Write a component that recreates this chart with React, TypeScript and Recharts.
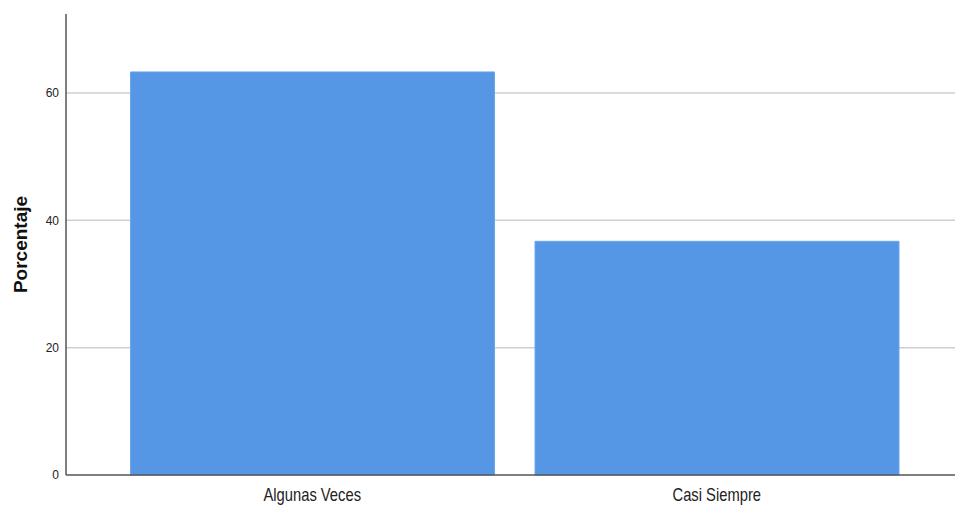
import React from 'react';
import { BarChart, Bar, XAxis, YAxis, CartesianGrid } from 'recharts';

const categories = ['Algunas Veces', 'Casi Siempre'];
const percentages = [63.3, 36.7];
const yTicks = [0, 20, 40, 60];
const gridValues = [20, 40, 60];

const data = categories.map((name, i) => ({ name, value: percentages[i] }));

// narrow-looking category label (no condensed font installed, so squeeze it)
const CategoryTick = (props: any) => {
  const { x, y, payload } = props;
  return (
    <g transform={`translate(${x},${y}) scale(0.82,1)`}>
      <text
        x={0}
        y={0}
        dy="0.71em"
        textAnchor="middle"
        fill="#222"
        fontSize={18}
        fontFamily="Liberation Sans, Arial, sans-serif"
      >
        {payload.value}
      </text>
    </g>
  );
};

export default function App() {
  return (
    <div style={{ position: 'absolute', left: 0, top: 0, width: 955, height: 506, background: '#fff' }}>
      <BarChart
        width={955}
        height={506}
        data={data}
        margin={{ top: 14, right: 0, bottom: 0, left: 0 }}
        barCategoryGap={20.5}
      >
        <CartesianGrid vertical={false} horizontalValues={gridValues} stroke="#cfcfcf" strokeWidth={1.5} />
        <XAxis
          dataKey="name"
          height={31}
          padding={{ left: 44, right: 36 }}
          tickLine={false}
          tickSize={6}
          tickMargin={7}
          axisLine={{ stroke: '#555', strokeWidth: 1.5 }}
          tick={<CategoryTick />}
        />
        <YAxis
          width={66}
          domain={[0, 72.4]}
          ticks={yTicks}
          tickLine={false}
          tickSize={5}
          tickMargin={2}
          axisLine={{ stroke: '#555', strokeWidth: 1.5 }}
          tick={{ fontSize: 12, fill: '#222', fontFamily: 'Liberation Sans, Arial, sans-serif' }}
          label={{
            value: 'Porcentaje',
            angle: -90,
            position: 'center',
            dx: -13,
            style: { fontSize: 19, fontWeight: 'bold', fill: '#111', fontFamily: 'Liberation Sans, Arial, sans-serif' },
          }}
        />
        <Bar dataKey="value" fill="#5596e5" stroke="#6aa5ee" strokeWidth={1} isAnimationActive={false} />
      </BarChart>
    </div>
  );
}
